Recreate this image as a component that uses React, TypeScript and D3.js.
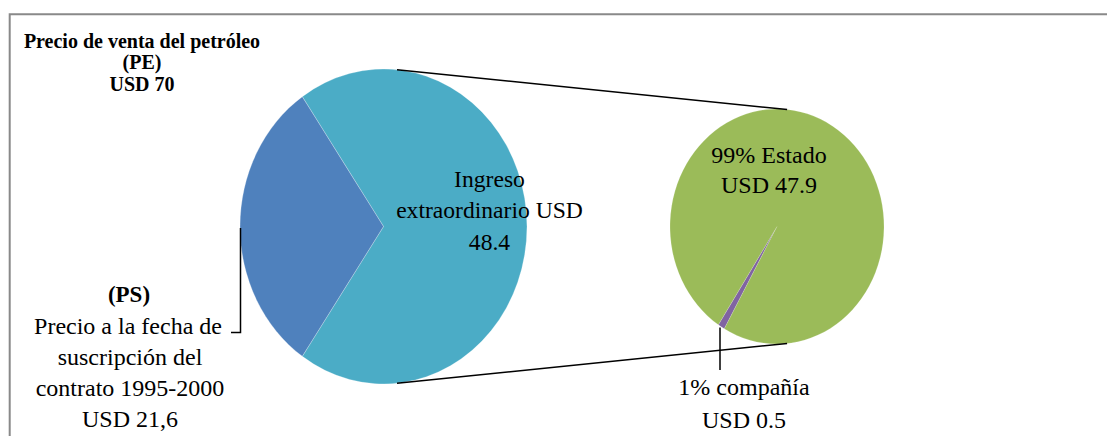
import React from "react";
import * as d3 from "d3";

const mainLabels = ["Ingreso extraordinario", "PS"];
const mainValues = [48.4, 21.6];
const subLabels = ["1% compañía", "99% Estado"];
const subValues = [0.5, 47.9];
const mainColors = ["#4BACC6", "#4F81BD"];
const subColors = ["#8064A2", "#9BBB59"];

const titleLines = ["Precio de venta del petróleo", "(PE)", "USD 70"];
const psLines = ["Precio a la fecha de", "suscripción del", "contrato 1995-2000", "USD 21,6"];
const ingresoLines = ["Ingreso", "extraordinario USD", "48.4"];
const estadoLines = ["99% Estado", "USD 47.9"];
const companiaLines = ["1% compañía", "USD 0.5"];

const W = 1107;
const H = 436;
const FONT = '"Liberation Serif", "Times New Roman", Times, serif';
const deg = Math.PI / 180;

const L = { cx: 383.5, cy: 226.5, rx: 143.5, ry: 157.5 };
const R = { cx: 777, cy: 226.5, rx: 107, ry: 117.5 };

function pt(p: { cx: number; cy: number; rx: number; ry: number }, a: number) {
  return [p.cx + p.rx * Math.sin(a * deg), p.cy - p.ry * Math.cos(a * deg)];
}

export default function App() {
  const psAngle = (mainValues[1] / d3.sum(mainValues)) * 360;
  const mainPie = d3
    .pie<number>()
    .sort(null)
    .startAngle((-(90 - psAngle / 2)) * deg)
    .endAngle((-(90 - psAngle / 2) + 360) * deg)(mainValues);
  const subPie = d3
    .pie<number>()
    .sort(null)
    .startAngle(209.5 * deg)
    .endAngle((209.5 + 360) * deg)(subValues);
  const arcL = d3.arc<d3.PieArcDatum<number>>().innerRadius(0).outerRadius(L.rx);
  const arcR = d3.arc<d3.PieArcDatum<number>>().innerRadius(0).outerRadius(R.rx);

  const connA = 5.4;
  const lt = pt(L, connA), rt = pt(R, connA);
  const lb = pt(L, 180 - connA), rb = pt(R, 180 - connA);

  const textStyle: React.CSSProperties = { fontFamily: FONT };
  const FS = 24;

  return (
    <div style={{ position: "absolute", left: 0, top: 0 }}>
      <svg width={W} height={H} style={{ display: "block", background: "#fff" }}>
        <path d={`M9.7,${H + 5} V14.3 H${W + 5}`} fill="none" stroke="#898989" strokeWidth={2} />
        <g transform={`translate(${L.cx},${L.cy}) scale(1,${L.ry / L.rx})`}>
          {mainPie.map((d, i) => (
            <path key={mainLabels[i]} d={arcL(d) || ""} fill={mainColors[i]} stroke="#ffffff" strokeWidth={0.4} strokeOpacity={0.6} />
          ))}
        </g>
        <g transform={`translate(${R.cx},${R.cy}) scale(1,${R.ry / R.rx})`}>
          {subPie.map((d, i) => (
            <path key={subLabels[i]} d={arcR(d) || ""} fill={subColors[i]} stroke="#ffffff" strokeWidth={0.3} strokeOpacity={0.5} />
          ))}
        </g>
        <line x1={lt[0]} y1={lt[1]} x2={rt[0]} y2={rt[1]} stroke="#000" strokeWidth={1.5} />
        <line x1={lb[0]} y1={lb[1]} x2={rb[0]} y2={rb[1]} stroke="#000" strokeWidth={1.5} />
        <path d="M231,332.5 H240.5 V228" fill="none" stroke="#000" strokeWidth={1.5} />
        <path d="M720,327.5 V370" fill="none" stroke="#000" strokeWidth={1.5} />

        <g style={textStyle} fill="#000" textAnchor="middle">
          {titleLines.map((t, i) => (
            <text key={t} x={142} y={48 + i * 21.3} style={textStyle} fontSize={20} fontWeight="bold">{t}</text>
          ))}
          <text x={129} y={301.5} style={textStyle} fontSize={23} fontWeight="bold">(PS)</text>
          {psLines.map((t, i) => (
            <text key={t} x={i === 0 ? 128 : 130} y={334.3 + i * 30.8} style={textStyle} fontSize={FS}>{t}</text>
          ))}
          {ingresoLines.map((t, i) => (
            <text key={t} x={489.5} y={186.7 + i * 31.6} style={textStyle} fontSize={23.6}>{t}</text>
          ))}
          {estadoLines.map((t, i) => (
            <text key={t} x={769} y={163.3 + i * 30} style={textStyle} fontSize={FS}>{t}</text>
          ))}
          {companiaLines.map((t, i) => (
            <text key={t} x={744} y={395 + i * 32.5} style={textStyle} fontSize={FS}>{t}</text>
          ))}
        </g>
      </svg>
    </div>
  );
}
